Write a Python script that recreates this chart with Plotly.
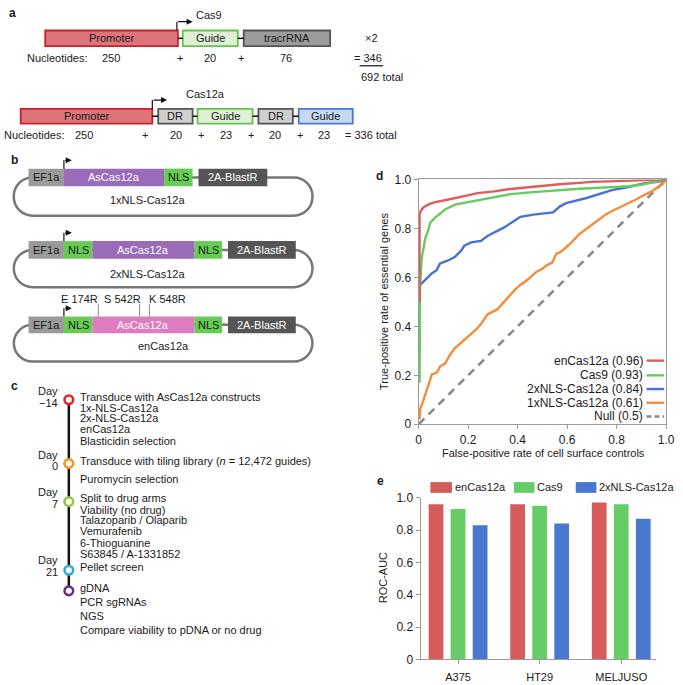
import plotly.graph_objects as go

W, H = 683, 685
FONT = "Liberation Sans, Arial, Helvetica, sans-serif"
TXT = "#1a1a1a"

# ---------------- data ----------------
# Panel a
cas9_parts = ["Promoter", "Guide", "tracrRNA"]
cas9_nt = [250, 20, 76]
cas12a_parts = ["Promoter", "DR", "Guide", "DR", "Guide"]
cas12a_nt = [250, 20, 23, 20, 23]

# Panel b
constructs = ["1xNLS-Cas12a", "2xNLS-Cas12a", "enCas12a"]
mutations = ["E 174R", "S 542R", "K 548R"]

# Panel c
timeline_days = ["Day<br>\u221214", "Day<br>0", "Day<br>7", "Day<br>21", ""]
timeline_text = [
    ["Transduce with AsCas12a constructs", "1x-NLS-Cas12a", "2x-NLS-Cas12a", "enCas12a", "Blasticidin selection"],
    ["Transduce with tiling library (<i>n</i> = 12,472 guides)", "Puromycin selection"],
    ["Split to drug arms", "Viability (no drug)", "Talazoparib / Olaparib", "Vemurafenib", "6-Thioguanine", "S63845 / A-1331852"],
    ["Pellet screen"],
    ["gDNA", "PCR sgRNAs", "NGS", "Compare viability to pDNA or no drug"],
]

# Panel d : ROC curves
roc_names = ["enCas12a (0.96)", "Cas9 (0.93)", "2xNLS-Cas12a (0.84)", "1xNLS-Cas12a (0.61)", "Null (0.5)"]
fpr_en = [0.004, 0.004, 0.01, 0.018, 0.028, 0.045, 0.067, 0.09, 0.107, 0.13, 0.173, 0.2, 0.238, 0.27, 0.306, 0.372,
          0.42, 0.5, 0.58, 0.65, 0.7, 0.8, 0.9, 0.95, 1.0]
tpr_en = [0.5, 0.857, 0.873, 0.884, 0.891, 0.9, 0.907, 0.91, 0.915, 0.92, 0.931, 0.935, 0.944, 0.947, 0.951, 0.961,
          0.966, 0.975, 0.981, 0.986, 0.99, 0.993, 0.996, 0.998, 1.0]
fpr_cas9 = [0.004, 0.004, 0.006, 0.009, 0.013, 0.02, 0.028, 0.035, 0.048, 0.067, 0.085, 0.107, 0.147, 0.19, 0.238,
            0.306, 0.372, 0.45, 0.55, 0.65, 0.75, 0.85, 0.9, 0.95, 1.0]
tpr_cas9 = [0.17, 0.32, 0.55, 0.62, 0.68, 0.72, 0.764, 0.78, 0.824, 0.844, 0.86, 0.877, 0.897, 0.905, 0.917,
            0.927, 0.94, 0.947, 0.955, 0.962, 0.967, 0.972, 0.978, 0.99, 1.0]
fpr_2x = [0.004, 0.004, 0.013, 0.033, 0.053, 0.073, 0.086, 0.119, 0.146, 0.172, 0.185, 0.212, 0.252, 0.278, 0.305,
          0.344, 0.384, 0.411, 0.464, 0.543, 0.57, 0.596, 0.675, 0.715, 0.781, 0.848, 0.914, 0.967, 1.0]
tpr_2x = [0.32, 0.57, 0.576, 0.596, 0.616, 0.629, 0.656, 0.669, 0.683, 0.709, 0.729, 0.743, 0.749, 0.769, 0.783,
          0.803, 0.829, 0.847, 0.856, 0.865, 0.889, 0.903, 0.923, 0.936, 0.956, 0.969, 0.985, 0.99, 1.0]
fpr_1x = [0.004, 0.006, 0.015, 0.028, 0.041, 0.054, 0.074, 0.087, 0.107, 0.125, 0.146, 0.18, 0.212, 0.235, 0.252,
          0.278, 0.3, 0.318, 0.345, 0.371, 0.39, 0.411, 0.44, 0.477, 0.5, 0.517, 0.54, 0.556, 0.575, 0.596, 0.62,
          0.649, 0.675, 0.702, 0.73, 0.755, 0.78, 0.808, 0.84, 0.874, 0.9, 0.914, 0.94, 0.967, 0.985, 1.0]
tpr_1x = [0.02, 0.06, 0.084, 0.124, 0.157, 0.204, 0.211, 0.237, 0.248, 0.28, 0.31, 0.34, 0.369, 0.39, 0.409,
          0.449, 0.46, 0.469, 0.5, 0.529, 0.55, 0.569, 0.59, 0.623, 0.635, 0.649, 0.66, 0.696, 0.705, 0.723, 0.745,
          0.776, 0.795, 0.816, 0.835, 0.856, 0.87, 0.883, 0.9, 0.916, 0.93, 0.936, 0.95, 0.969, 0.98, 1.0]
fpr_null = [0.0, 1.0]
tpr_null = [0.0, 1.0]
axis_ticks = [0, 0.2, 0.4, 0.6, 0.8, 1.0]
axis_ticktext = ["0", "0.2", "0.4", "0.6", "0.8", "1.0"]

# Panel e : ROC-AUC bars
cell_lines = ["A375", "HT29", "MELJUSO"]
bar_names = ["enCas12a", "Cas9", "2xNLS-Cas12a"]
auc_en = [0.96, 0.96, 0.97]
auc_cas9 = [0.93, 0.95, 0.96]
auc_2x = [0.83, 0.84, 0.87]

# ---------------- colours ----------------
C_RED = "#e05c5c"
C_GREEN = "#66cc5e"
C_BLUE = "#4673d2"
C_ORANGE = "#f58c3c"
C_NULL = "#8a8a8a"
B_RED = "#d65c5c"
B_GREEN = "#66cc66"
B_BLUE = "#4a78d0"
AX = "#9a9a9a"


def fx(x):
    return x / W


def fy(y):
    return 1 - y / H


shapes = []
annotations = []


def txt(x, y, s, size=11, color=TXT, anchor="center", bold=False, angle=0):
    if bold:
        s = "<b>" + s + "</b>"
    annotations.append(dict(x=fx(x), y=fy(y), xref="paper", yref="paper", text=s, showarrow=False,
                            xanchor=anchor, yanchor="middle", textangle=angle, borderpad=0,
                            font=dict(family=FONT, size=size, color=color)))


def rect(x0, y0, x1, y1, fill, line=None, lw=0):
    shapes.append(dict(type="rect", xref="paper", yref="paper", x0=fx(x0), x1=fx(x1), y0=fy(y1), y1=fy(y0),
                       fillcolor=fill, line=dict(color=line or fill, width=lw), layer="above"))


def seg(x0, y0, x1, y1, color, w, dash="solid"):
    shapes.append(dict(type="line", xref="paper", yref="paper", x0=fx(x0), x1=fx(x1), y0=fy(y0), y1=fy(y1),
                       line=dict(color=color, width=w, dash=dash), layer="above"))


def circle(cx, cy, r, color, w):
    shapes.append(dict(type="circle", xref="paper", yref="paper", x0=fx(cx - r), x1=fx(cx + r),
                       y0=fy(cy + r), y1=fy(cy - r), fillcolor="white", line=dict(color=color, width=w),
                       layer="above"))


def rounded(x0, y0, x1, y1, r, color, w):
    d = (f"M {fx(x0 + r)},{fy(y0)} L {fx(x1 - r)},{fy(y0)} "
         f"C {fx(x1 - r * 0.45)},{fy(y0)} {fx(x1)},{fy(y0 + r * 0.45)} {fx(x1)},{fy(y0 + r)} "
         f"L {fx(x1)},{fy(y1 - r)} "
         f"C {fx(x1)},{fy(y1 - r * 0.45)} {fx(x1 - r * 0.45)},{fy(y1)} {fx(x1 - r)},{fy(y1)} "
         f"L {fx(x0 + r)},{fy(y1)} "
         f"C {fx(x0 + r * 0.45)},{fy(y1)} {fx(x0)},{fy(y1 - r * 0.45)} {fx(x0)},{fy(y1 - r)} "
         f"L {fx(x0)},{fy(y0 + r)} "
         f"C {fx(x0)},{fy(y0 + r * 0.45)} {fx(x0 + r * 0.45)},{fy(y0)} {fx(x0 + r)},{fy(y0)} Z")
    shapes.append(dict(type="path", xref="paper", yref="paper", path=d, line=dict(color=color, width=w),
                       fillcolor="rgba(0,0,0,0)", layer="above"))


def bent_arrow(x, ybot, ytop, xend):
    seg(x, ybot, x, ytop, "#111111", 1.2)
    annotations.append(dict(x=fx(xend), y=fy(ytop), xref="paper", yref="paper", ax=-(xend - x), ay=0,
                            text="", showarrow=True, arrowhead=2, arrowsize=1, arrowwidth=1.2,
                            arrowcolor="#111111", standoff=0, startstandoff=0))


# ---------------- panel a ----------------
txt(10, 6, "a", size=12, bold=True)
part_style = {
    "Promoter": ("#dc7479", "#c8202e"),
    "Guide": ("#dff0d6", "#66c24e"),
    "tracrRNA": ("#9c9c9c", "#555555"),
    "DR": ("#cfcfcf", "#555555"),
    "GuideB": ("#c6d9f1", "#4a7bd0"),
}
# Cas9 row
cas9_x = [(43, 178), (183, 239), (245, 333)]
for (x0, x1), name in zip(cas9_x, cas9_parts):
    f, l = part_style[name]
    rect(x0, 24, x1, 40, f, l, 1.8)
    txt((x0 + x1) / 2, 32, name)
seg(178, 32, 183, 32, "#111111", 1.5)
seg(239, 32, 245, 32, "#111111", 1.5)
bent_arrow(177, 24, 15, 193)
txt(210, 8, "Cas9")
txt(375, 32, "\u00d72")
txt(23, 52, "Nucleotides:", anchor="left")
for xc, v in zip([110, 211, 288], cas9_nt):
    txt(xc, 52, str(v))
txt(180, 52, "+")
txt(242, 52, "+")
txt(356, 52, "= " + str(sum(cas9_nt)), anchor="left")
seg(363, 60, 387, 60, "#111111", 1.2)
txt(386, 71, str(2 * sum(cas9_nt)) + " total")

# Cas12a row
cas12a_x = [(18, 152), (158, 193), (198, 254), (260, 295), (301, 356)]
for i, ((x0, x1), name) in enumerate(zip(cas12a_x, cas12a_parts)):
    key = "GuideB" if (name == "Guide" and i == 4) else name
    f, l = part_style[key]
    rect(x0, 104, x1, 119, f, l, 1.8)
    txt((x0 + x1) / 2, 111.5, name)
for a, b in [(152, 158), (193, 198), (254, 260), (295, 301)]:
    seg(a, 111.5, b, 111.5, "#111111", 1.5)
bent_arrow(152, 104, 95, 167)
txt(206, 89, "Cas12a")
txt(0, 131, "Nucleotides:", anchor="left")
for xc, v in zip([82, 176, 227, 277, 327], cas12a_nt):
    txt(xc, 131, str(v))
for xc in [145, 202, 252, 302]:
    txt(xc, 131, "+")
txt(347, 131, "= " + str(sum(cas12a_nt)) + " total", anchor="left")

# ---------------- panel b ----------------
txt(12, 156, "b", size=12, bold=True)
C_EF = "#9a9a9a"
C_PURP = "#9a6bb8"
C_PINK = "#de7cc0"
C_NLS = "#66cc55"
C_BLAST = "#555555"
LOOP = "#777777"

rows_b = [(165, 183, 213, 197), (239, 257, 286, 273), (316, 333, 362, 346)]
for k, (y0, y1, ybot, ylab) in enumerate(rows_b):
    ym = (y0 + y1) / 2
    rounded(11, ym, 315, ybot, 19, LOOP, 2.5)
    if k == 0:
        segs = [(26, 62, C_EF, "EF1a", TXT), (62, 164, C_PURP, "AsCas12a", "white"),
                (164, 193, C_NLS, "NLS", TXT), (199, 269, C_BLAST, "2A-BlastR", "white")]
    else:
        cas_col = C_PURP if k == 1 else C_PINK
        segs = [(26, 62, C_EF, "EF1a", TXT), (62, 91, C_NLS, "NLS", TXT), (91, 195, cas_col, "AsCas12a", "white"),
                (195, 223, C_NLS, "NLS", TXT), (229, 298, C_BLAST, "2A-BlastR", "white")]
    for x0, x1, col, lab, tc in segs:
        rect(x0, y0, x1, y1, col)
        txt((x0 + x1) / 2, ym, lab, color=tc)
    bent_arrow(62, y0, y0 - 8.5, 70)
    txt(147 if k < 2 else 163, ylab, constructs[k])

for xc, lab in zip([78, 122, 167], mutations):
    txt(xc, 298, lab)
for xt in [97, 139, 149]:
    seg(xt, 303, xt, 316, "#8a8a8a", 1)

# ---------------- panel c ----------------
txt(12, 387, "c", size=12, bold=True)
circ_y = [401, 466, 505, 575, 596]
circ_c = ["#e8202a", "#f7941d", "#8dc63f", "#29abe2", "#662d91"]
seg(67, 401, 67, 596, "#111111", 2.5)
for cy, cc in zip(circ_y, circ_c):
    circle(67, cy, 4.4, cc, 2.5)
day_y = [398, 463, 501, 571]
for dy, lab in zip(day_y, timeline_days[:4]):
    parts = lab.split("<br>")
    txt(57, dy - 6, parts[0], anchor="right")
    txt(57, dy + 6, parts[1], anchor="right")
text_y = [
    [398, 409.5, 420, 430.5, 443],
    [463, 482],
    [501.5, 513, 524, 535, 547, 558],
    [572],
    [593, 607, 622, 636],
]
for ys, lines in zip(text_y, timeline_text):
    for yy, s in zip(ys, lines):
        txt(77, yy, s, anchor="left")

# ---------------- panel d ----------------
txt(383, 173, "d", size=12, bold=True)
fig = go.Figure()
fig.add_trace(go.Scatter(x=fpr_null, y=tpr_null, mode="lines", line=dict(color=C_NULL, width=2.6, dash="8px,6px"),
                         xaxis="x", yaxis="y", showlegend=False, hoverinfo="skip"))
for xs, ys, col in [(fpr_1x, tpr_1x, C_ORANGE), (fpr_2x, tpr_2x, C_BLUE), (fpr_cas9, tpr_cas9, C_GREEN),
                    (fpr_en, tpr_en, C_RED)]:
    fig.add_trace(go.Scatter(x=xs, y=ys, mode="lines", line=dict(color=col, width=2.4),
                             xaxis="x", yaxis="y", showlegend=False, hoverinfo="skip"))

leg_y = [361, 376, 390, 404, 418]
leg_c = [C_RED, C_GREEN, C_BLUE, C_ORANGE, C_NULL]
for yy, name, col in zip(leg_y, roc_names, leg_c):
    txt(652, yy, name, size=12, anchor="right")
    seg(655, yy, 673, yy, col, 2.4, "solid" if col != C_NULL else "5px,3px")
txt(550, 455, "False-positive rate of cell surface controls")
txt(388, 301, "True-positive rate of essential genes", angle=-90)

# ---------------- panel e ----------------
txt(384, 484, "e", size=12, bold=True)
for vals, col in [(auc_en, B_RED), (auc_cas9, B_GREEN), (auc_2x, B_BLUE)]:
    fig.add_trace(go.Bar(x=cell_lines, y=vals, marker=dict(color=col, line=dict(width=0)),
                         xaxis="x2", yaxis="y2", showlegend=False, hoverinfo="skip"))
leg_e = [(435, 457, B_RED), (520, 541, B_GREEN), (583, 604, B_BLUE)]
for (x0, x1, col), name in zip(leg_e, bar_names):
    rect(x0, 485, x1, 496, col)
    txt(x1 + 2, 490.5, name, anchor="left")
txt(387, 583, "ROC-AUC", angle=-90)

axis_common = dict(showgrid=False, zeroline=False, showline=True, linecolor=AX, linewidth=1,
                   ticks="outside", ticklen=4, tickcolor=AX, tickwidth=1, ticklabeloverflow="allow",
                   tickfont=dict(family=FONT, size=12, color=TXT))

fig.update_layout(
    width=W, height=H, autosize=False,
    margin=dict(l=0, r=0, t=0, b=0, pad=0),
    paper_bgcolor="white", plot_bgcolor="white",
    font=dict(family=FONT, size=11, color=TXT),
    barmode="group", bargap=0.19, bargroupgap=0.33,
    xaxis=dict(domain=[fx(423), fx(675)], range=[0, 1], anchor="y", tickvals=axis_ticks,
               ticktext=axis_ticktext, mirror=True, **axis_common),
    yaxis=dict(domain=[fy(426), fy(176)], range=[0, 1], anchor="x", tickvals=axis_ticks,
               ticktext=axis_ticktext, mirror=True, **axis_common),
    xaxis2=dict(domain=[fx(425), fx(665)], range=[-0.46, 2.43], anchor="y2", type="category",
                ticklabelstandoff=3,
                **{**axis_common, "tickfont": dict(family=FONT, size=11, color=TXT)}),
    yaxis2=dict(domain=[fy(666), fy(501)], range=[0, 1], anchor="x2", tickvals=axis_ticks,
                ticktext=axis_ticktext, **axis_common),
    shapes=shapes,
    annotations=annotations,
)

# drop the browser's default 8px page margin so the 683x685 figure fills the window exactly
fig.write_html("out.html", config={"displayModeBar": False},
               post_script="}); document.body.style.margin='0px'; "
                           "document.documentElement.style.overflow='hidden'; (function(){")
